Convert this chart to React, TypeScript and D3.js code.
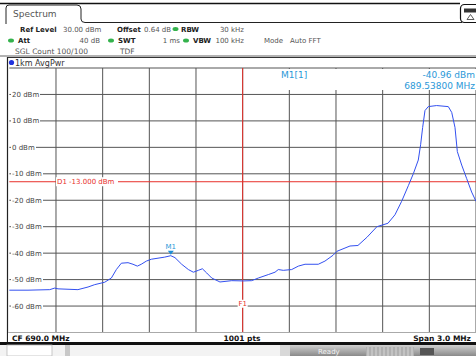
import * as d3 from "d3";

// trace samples (frequency in MHz, level in dBm)
const traceFreq = [
  688.5, 688.62, 688.76, 688.792, 688.813, 688.941, 689.006, 689.049, 689.113, 689.156,
  689.188, 689.22, 689.263, 689.295, 689.323, 689.348, 689.381, 689.413, 689.499, 689.538,
  689.565, 689.608, 689.651, 689.683, 689.715, 689.741, 689.769, 689.801, 689.854, 689.93,
  690.004, 690.058, 690.101, 690.165, 690.208, 690.229, 690.261, 690.315, 690.358, 690.401,
  690.486, 690.529, 690.581, 690.606, 690.69, 690.741, 690.799, 690.863, 690.934, 690.979,
  691.022, 691.065, 691.097, 691.129, 691.144, 691.157, 691.172, 691.193, 691.247, 691.322,
  691.344, 691.365, 691.38, 691.408, 691.44, 691.472, 691.5,
];
const traceLevel = [
  -54.0, -54.0, -53.8, -53.2, -53.5, -53.8, -52.8, -51.9, -51.0, -49.4,
  -46.2, -43.8, -43.6, -44.2, -44.9, -44.2, -43.0, -42.3, -41.5, -40.96,
  -41.7, -44.2, -46.2, -47.2, -46.5, -45.9, -47.5, -49.4, -50.9, -50.4,
  -50.5, -50.4, -49.4, -48.1, -47.2, -46.2, -46.5, -46.2, -44.9, -44.2,
  -44.2, -43.0, -40.8, -39.3, -37.3, -37.1, -34.0, -30.0, -28.7, -25.5,
  -20.4, -14.5, -10.0, -4.8, 1.0, 7.5, 13.9, 15.4, 15.8, 15.4,
  13.2, 7.5, -1.6, -6.7, -11.8, -16.9, -20.4,
];

const freqGrid = [688.5, 688.8, 689.1, 689.4, 689.7, 690.0, 690.3, 690.6, 690.9, 691.2, 691.5];
const levelGrid = [30, 20, 10, 0, -10, -20, -30, -40, -50, -60, -70];
const levelLabels = [20, 10, 0, -10, -20, -30, -40, -50, -60];

const m1Freq = 689.538;
const m1Level = -40.96;
const d1Level = -13;
const f1Freq = 690.0;

const W = 476;
const H = 356;
const FONT = "DejaVu Sans, sans-serif";
const MK = "#2a98d8";
const RED = "#e8302a";

export default function App() {
  const x = d3.scaleLinear().domain([688.5, 691.5]).range([9.33, 476]);
  const y = d3.scaleLinear().domain([-70, 30]).range([332.5, 68]);

  const pts: [number, number][] = traceFreq.map((f, i) => [f, traceLevel[i]]);
  const line = d3
    .line<[number, number]>()
    .x((d) => x(d[0]))
    .y((d) => y(d[1]));

  const mx = x(m1Freq);
  const my = y(m1Level);

  const dot = (cx: number, cy: number) => (
    <ellipse cx={cx} cy={cy} rx={3} ry={2} fill="#34b24c" />
  );

  return (
    <svg
      width={W}
      height={H}
      style={{ position: "absolute", left: 0, top: 0, background: "#fff" }}
      fontFamily={FONT}
    >
      <rect width={W} height={H} fill="#fff" />

      {/* tab header */}
      <line x1={0} x2={460} y1={3.5} y2={3.5} stroke="#111" strokeWidth={1.5} />
      <path
        d="M6,24 L6,8 Q6,5 9,5 L77,5 Q81,5 81,9 L81,19 Q81,22.5 85,22.5 L462,22.5"
        fill="none"
        stroke="#222"
        strokeWidth={1}
      />
      <text x={13} y={17} fontSize={9} fill="#555">Spectrum</text>
      <rect x={460.5} y={4.5} width={20} height={18} rx={4} fill="#fff" stroke="#111" strokeWidth={1.2} />
      <rect x={464} y={8.5} width={12} height={4} fill="#333" />
      <path d="M470.5,14.5 L474,19.5 L467,19.5 Z" fill="none" stroke="#333" strokeWidth={0.8} />

      {/* settings */}
      <g fontSize={7} fill="#555">
        <text x={20} y={31.5} fontWeight="bold" fill="#222">Ref Level</text>
        <text x={63} y={31.5}>30.00 dBm</text>
        <text x={117} y={31.5} fontWeight="bold" fill="#222">Offset</text>
        <text x={144} y={31.5}>0.64 dB</text>
        {dot(175.5, 29)}
        <text x={181} y={31.5} fontWeight="bold" fill="#222">RBW</text>
        <text x={244} y={31.5} textAnchor="end">30 kHz</text>

        {dot(11, 40.5)}
        <text x={18} y={43} fontWeight="bold" fill="#222">Att</text>
        <text x={100} y={43} textAnchor="end">40 dB</text>
        {dot(111, 40.5)}
        <text x={118} y={43} fontWeight="bold" fill="#222">SWT</text>
        <text x={180} y={43} textAnchor="end">1 ms</text>
        {dot(186, 40.5)}
        <text x={193} y={43} fontWeight="bold" fill="#222">VBW</text>
        <text x={244} y={43} textAnchor="end">100 kHz</text>
        <text x={264} y={43}>Mode</text>
        <text x={290} y={43}>Auto FFT</text>

        <text x={15} y={53.5} fontSize={7.5}>SGL Count 100/100</text>
        <text x={120} y={53.5} fontSize={7.5}>TDF</text>
      </g>
      <line x1={0} x2={W} y1={56} y2={56} stroke="#999" strokeWidth={1.5} />

      {/* trace label bar */}
      <line x1={7} x2={W} y1={57.5} y2={57.5} stroke="#333" strokeWidth={1} />
      <circle cx={11.5} cy={62.5} r={2.6} fill="#2233dd" />
      <text x={15} y={66} fontSize={8} fill="#333">1km AvgPwr</text>

      {/* grid */}
      <g stroke="#555" strokeWidth={1}>
        {freqGrid.slice(1).map((f) => (
          <line key={"v" + f} x1={x(f)} x2={x(f)} y1={y(30)} y2={y(-70)} />
        ))}
        {levelGrid.map((l) => (
          <line key={"h" + l} x1={x(688.5)} x2={W} y1={y(l)} y2={y(l)} />
        ))}
      </g>

      {/* left frame */}
      <line x1={7.5} x2={7.5} y1={57} y2={343} stroke="#222" strokeWidth={1.2} />

      {/* marker info box */}
      <rect x={262} y={69} width={W - 262} height={21} fill="#fff" />
      <g fontSize={9} fill={MK}>
        <text x={281} y={78}>M1[1]</text>
        <text x={475} y={78} textAnchor="end">-40.96 dBm</text>
        <text x={475} y={89} textAnchor="end">689.53800 MHz</text>
      </g>

      {/* level labels */}
      <g fontSize={7} fill="#444">
        {levelLabels.map((l) => (
          <g key={"l" + l}>
            <rect x={11} y={y(l) - 4.5} width={l <= -10 ? 32 : l === 0 ? 25 : 29} height={9} fill="#fff" />
            <text x={12} y={y(l) + 2.5}>{`${l} dBm`}</text>
          </g>
        ))}
      </g>

      {/* display line D1 */}
      <line x1={x(688.5)} x2={W} y1={y(d1Level)} y2={y(d1Level)} stroke={RED} strokeWidth={1} />
      <rect x={56} y={y(d1Level) - 4.5} width={62} height={9} fill="#fff" />
      <text x={57} y={y(d1Level) + 2.5} fontSize={7} fill={RED}>D1  -13.000 dBm</text>

      {/* frequency line F1 */}
      <line x1={x(f1Freq)} x2={x(f1Freq)} y1={y(30)} y2={y(-70)} stroke={RED} strokeWidth={1} />
      <rect x={x(f1Freq) - 5} y={y(-58) - 1} width={10} height={8} fill="#fff" />
      <text x={x(f1Freq)} y={y(-58) + 5.5} fontSize={7} fill={RED} textAnchor="middle">F1</text>

      {/* trace */}
      <path d={line(pts) ?? ""} fill="none" stroke="#3350f0" strokeWidth={1} />

      {/* marker M1 */}
      <path d={`M${mx - 3},${my - 5} L${mx + 3},${my - 5} L${mx},${my - 1} Z`} fill="#1e8fd6" />
      <text x={mx} y={my - 7} fontSize={7} fill={MK} textAnchor="middle">M1</text>

      {/* footer */}
      <rect x={8} y={332.5} width={W - 8} height={10} fill="#fff" />
      <line x1={8} x2={W} y1={332.5} y2={332.5} stroke="#aaa" strokeWidth={0.8} />
      <g fontSize={7.5} fontWeight="bold" fill="#111">
        <text x={12} y={340.5}>CF 690.0 MHz</text>
        <text x={242} y={340.5} textAnchor="middle">1001 pts</text>
        <text x={471} y={340.5} textAnchor="end">Span 3.0 MHz</text>
      </g>

      {/* status bar */}
      <defs>
        <linearGradient id="sb" x1="0" x2="0" y1="0" y2="1">
          <stop offset="0" stopColor="#d0d0d0" />
          <stop offset="1" stopColor="#8a8a8a" />
        </linearGradient>
      </defs>
      <rect x={0} y={342} width={W} height={3} fill="#111" />
      <rect x={0} y={345} width={W} height={11} fill="#f3f3f3" />
      <rect x={7} y={345} width={45} height={11} fill="#fff" stroke="#bbb" strokeWidth={0.8} />
      <rect x={65} y={345} width={5} height={11} fill="#c8c8c8" />
      <rect x={280} y={345} width={10} height={11} fill="#d8d8d8" />
      <rect x={290} y={345} width={W - 290} height={11} fill="url(#sb)" />
      <text x={318} y={354} fontSize={7} fill="#f4f4f4">Ready</text>
      <rect x={366} y={347} width={48} height={9} fill="#b0b0b0" />
      {d3.range(368, 414, 4).map((v) => (
        <line key={"s" + v} x1={v} x2={v} y1={347} y2={356} stroke="#d6d6d6" strokeWidth={1} />
      ))}
      <rect x={420} y={348} width={14} height={7} fill="#555" />
    </svg>
  );
}
